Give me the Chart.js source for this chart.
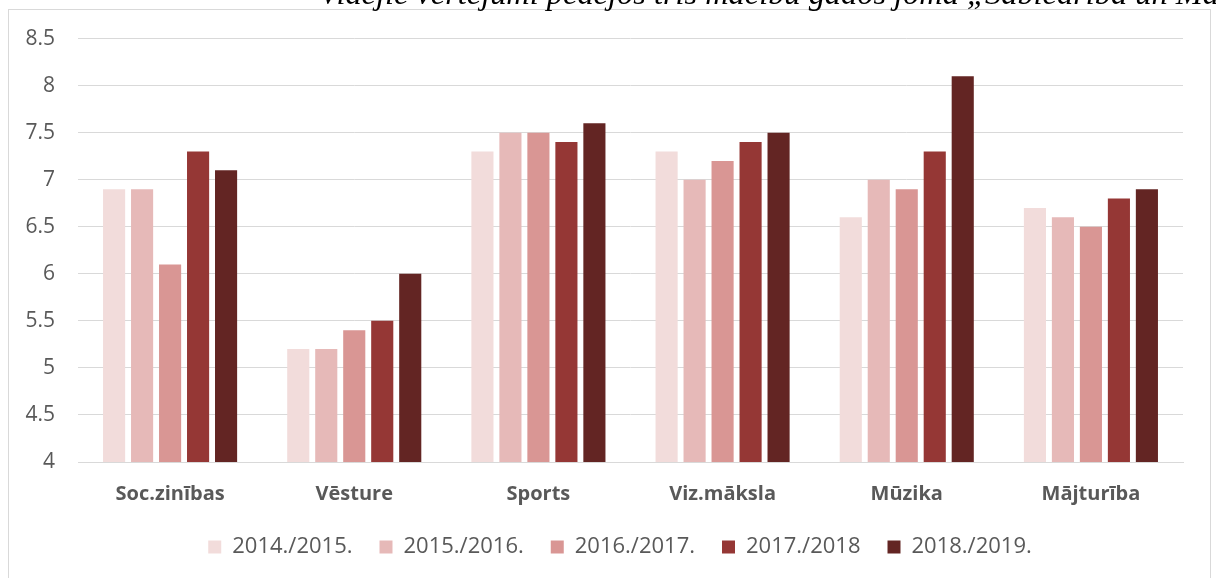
<!DOCTYPE html>
<html>
<head>
<meta charset="utf-8">
<script src="https://cdn.jsdelivr.net/npm/chart.js@4.4.1/dist/chart.umd.min.js"></script>
<style>
    body { margin: 0; width: 1216px; height: 578px; overflow: hidden; background: #fff; position: relative; }
    #kaste { position: absolute; left: 8px; top: 9px; width: 1203px; height: 580px; border: 1px solid #d9d9d9; box-sizing: border-box; }
    #virsraksts { position: absolute; left: 319px; top: -22px; line-height: 30px; white-space: nowrap; font-family: "Liberation Serif", serif; font-style: italic; font-size: 32.4px; color: #000; z-index: 2; }
    #wrap { position: absolute; left: 9px; top: 3px; width: 1202px; height: 575px; }
</style>
</head>
<body>
<div id="kaste"></div>
<div id="wrap"><canvas id="myChart"></canvas></div>
<div id="virsraksts">Vidējie vērtējumi pēdējos trīs mācību gados jomā „Sabiedrība un Māksla”</div>
<script>
const prieksmeti = ['Soc.zinības', 'Vēsture', 'Sports', 'Viz.māksla', 'Mūzika', 'Mājturība'];
const gadi = ['2014./2015.', '2015./2016.', '2016./2017.', '2017./2018', '2018./2019.'];
const krasas = ['#f2dcdb', '#e6b9b8', '#d99694', '#953735', '#632523'];
const v2014 = [6.9, 5.2, 7.3, 7.3, 6.6, 6.7];
const v2015 = [6.9, 5.2, 7.5, 7.0, 7.0, 6.6];
const v2016 = [6.1, 5.4, 7.5, 7.2, 6.9, 6.5];
const v2017 = [7.3, 5.5, 7.4, 7.4, 7.3, 6.8];
const v2018 = [7.1, 6.0, 7.6, 7.5, 8.1, 6.9];
const yTicks = [4, 4.5, 5, 5.5, 6, 6.5, 7, 7.5, 8, 8.5];

const dati = [v2014, v2015, v2016, v2017, v2018];

// legendu nobīda nedaudz pa labi, kā oriģinālā
const legendasNobide = {
    id: 'legendasNobide',
    afterLayout(chart) {
        chart.legend.left += 24;
        chart.legend.right += 24;
    }
};

const ctx = document.getElementById('myChart').getContext('2d');
const myChart = new Chart(ctx, {
    type: 'bar',
    data: {
        labels: prieksmeti,
        datasets: dati.map((d, i) => ({
            label: gadi[i],
            data: d,
            backgroundColor: krasas[i],
            borderWidth: 0,
            categoryPercentage: 0.76,
            barPercentage: 0.79
        }))
    },
    options: {
        responsive: true,
        maintainAspectRatio: false,
        animation: false,
        layout: { padding: { left: 0, right: 28, top: 16, bottom: 10 } },
        plugins: {
            tooltip: { enabled: false },
            legend: {
                position: 'bottom',
                labels: {
                    boxWidth: 13,
                    boxHeight: 13,
                    padding: 27,
                    color: '#595959',
                    font: { family: 'Open Sans', size: 22 }
                }
            }
        },
        scales: {
            x: {
                grid: { display: false },
                border: { color: '#d9d9d9', width: 1 },
                ticks: {
                    color: '#595959',
                    padding: 12,
                    font: { family: 'Open Sans', size: 20, weight: 'bold' }
                },
                afterFit: function (scale) { scale.height = 47; }
            },
            y: {
                min: 4,
                max: 8.5,
                afterBuildTicks: function (scale) { scale.ticks = yTicks.map(v => ({ value: v })); },
                grid: { color: '#d9d9d9', lineWidth: 1, drawTicks: false },
                border: { display: false },
                ticks: {
                    color: '#595959',
                    padding: 23,
                    font: { family: 'Open Sans', size: 21 },
                    callback: function (v) { return String(v); }
                },
                afterFit: function (scale) { scale.width = 69; }
            }
        }
    },
    plugins: [legendasNobide]
});
</script>
</body>
</html>
